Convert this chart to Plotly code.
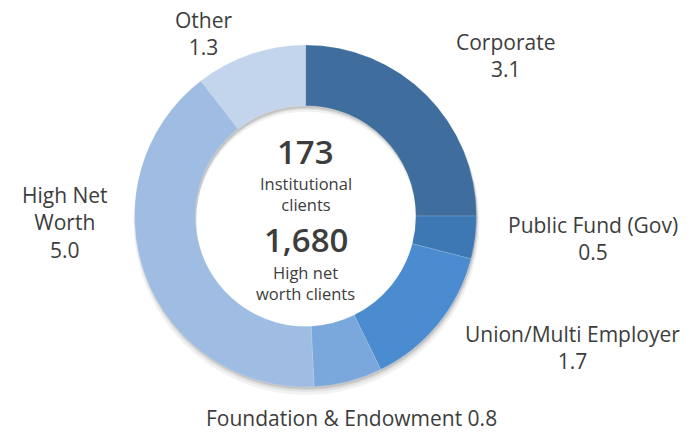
import plotly.graph_objects as go

categories = ["Corporate", "Public Fund (Gov)", "Union/Multi Employer",
              "Foundation & Endowment", "High Net Worth", "Other"]
values = [3.1, 0.5, 1.7, 0.8, 5.0, 1.3]
colors = ["#3f6d9e", "#3e78b4", "#4a8ccf", "#7aa8dc", "#9fbde3", "#c3d5ec"]
institutional_clients = "173"
hnw_clients = "1,680"

W, H = 695, 433
cx, cy, R = 305.5, 216, 171

def dom(dx=0, dy=0, dr=0):
    return dict(x=[(cx - R - dr + dx) / W, (cx + R + dr + dx) / W],
                y=[1 - (cy + R + dr + dy) / H, 1 - (cy - R - dr + dy) / H])

fig = go.Figure()
# soft drop shadow
for off, dr, op in [(6, 2, 0.05), (4, 1, 0.06), (3, 0, 0.07), (2, 0, 0.07)]:
    fig.add_trace(go.Pie(values=[sum(values)], hole=0.645 * R / (R + dr), sort=False,
                         marker=dict(colors=["#000000"], line=dict(width=0)),
                         opacity=op, textinfo="none", hoverinfo="skip",
                         showlegend=False, domain=dom(1, off, dr)))
fig.add_trace(go.Pie(labels=categories, values=values, hole=0.645, sort=False,
                     direction="clockwise", rotation=0,
                     marker=dict(colors=colors, line=dict(color="rgba(255,255,255,0.3)", width=0.5)),
                     textinfo="none", showlegend=False, domain=dom()))

font = "'Open Sans', Lato, sans-serif"
col = "#3d3d3d"
labels = [
    (f"Corporate<br>{values[0]:.1f}", 505, 56),
    (f"Public Fund (Gov)<br>{values[1]:.1f}", 593, 238),
    (f"Union/Multi Employer<br>{values[2]:.1f}", 572, 347),
    (f"Foundation & Endowment {values[3]:.1f}", 351, 418),
    (f"High Net<br>Worth<br>{values[4]:.1f}", 65, 222),
    (f"Other<br>{values[5]:.1f}", 203, 33),
]
for text, x, y in labels:
    fig.add_annotation(text=text, x=x / W, y=1 - y / H, xref="paper", yref="paper",
                       showarrow=False, xanchor="center", yanchor="middle",
                       font=dict(family=font, size=21, color=col), align="center")

center = [
    (institutional_clients, 151, 33, 600),
    ("Institutional<br>clients", 194, 16.5, 400),
    (hnw_clients, 240, 33, 600),
    ("High net<br>worth clients", 283, 16.5, 400),
]
for text, y, s, wgt in center:
    fig.add_annotation(text=text, x=cx / W, y=1 - y / H, xref="paper", yref="paper",
                       showarrow=False, xanchor="center", yanchor="middle",
                       font=dict(family=font, size=s, color=col, weight=wgt), align="center")

fig.update_layout(width=W, height=H, margin=dict(l=0, r=0, t=0, b=0),
                  paper_bgcolor="white", plot_bgcolor="white")
fig.write_html("out.html", config={"displayModeBar": False},
               post_script="document.body.style.margin='0';")
